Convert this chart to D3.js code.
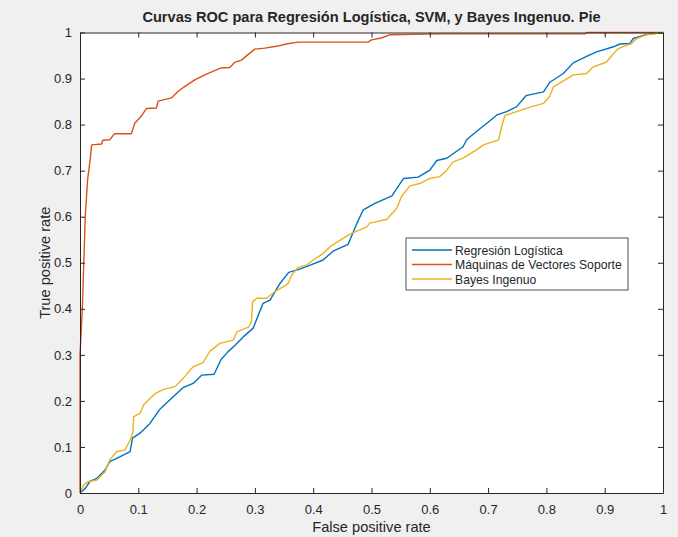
<!DOCTYPE html>
<meta charset="utf-8">
<script src="https://d3js.org/d3.v7.min.js"></script>
<style>
  body { margin: 0; background: #f0f0f0; }
  text { font-family: "Liberation Sans", Arial, sans-serif; fill: #262626; }
</style>
<div id="chart"></div>
<script>

// ROC points (false positive rate, true positive rate)
var rlFpr = [0,0.009,0.017,0.029,0.043,0.051,0.069,0.086,0.09,0.103,0.12,0.137,0.154,0.177,0.194,0.209,0.23,0.242,0.254,0.266,0.28,0.297,0.314,0.326,0.343,0.358,0.377,0.395,0.417,0.434,0.46,0.475,0.486,0.506,0.535,0.555,0.58,0.6,0.612,0.629,0.657,0.663,0.68,0.698,0.715,0.732,0.749,0.76,0.765,0.795,0.806,0.829,0.846,0.869,0.886,0.915,0.926,0.943,0.949,0.972,1];
var rlTpr = [0,0.01,0.025,0.032,0.05,0.068,0.079,0.09,0.119,0.13,0.151,0.182,0.202,0.229,0.238,0.256,0.258,0.29,0.307,0.321,0.339,0.358,0.412,0.419,0.455,0.479,0.486,0.495,0.506,0.525,0.54,0.586,0.615,0.629,0.645,0.683,0.686,0.701,0.722,0.727,0.752,0.767,0.785,0.803,0.821,0.828,0.839,0.855,0.863,0.871,0.892,0.911,0.934,0.948,0.958,0.969,0.975,0.976,0.987,0.996,1];

var svmFpr = [0,0,0.004,0.009,0.013,0.018,0.02,0.037,0.039,0.051,0.059,0.088,0.094,0.105,0.114,0.131,0.134,0.157,0.168,0.18,0.197,0.214,0.231,0.242,0.257,0.265,0.277,0.288,0.3,0.317,0.337,0.354,0.374,0.494,0.5,0.517,0.531,0.62,0.866,0.87,1];
var svmTpr = [0,0.3,0.4,0.6,0.68,0.73,0.756,0.758,0.766,0.767,0.78,0.78,0.803,0.818,0.835,0.836,0.851,0.858,0.872,0.883,0.897,0.908,0.917,0.923,0.924,0.935,0.94,0.952,0.964,0.966,0.97,0.975,0.979,0.979,0.984,0.988,0.995,0.997,0.997,1,1];

var nbFpr = [0,0.006,0.014,0.029,0.043,0.051,0.063,0.077,0.086,0.091,0.092,0.103,0.109,0.12,0.129,0.143,0.163,0.177,0.194,0.211,0.223,0.24,0.263,0.269,0.289,0.294,0.296,0.303,0.32,0.334,0.349,0.357,0.363,0.374,0.389,0.4,0.417,0.429,0.463,0.492,0.497,0.526,0.543,0.552,0.566,0.583,0.6,0.617,0.629,0.64,0.657,0.68,0.692,0.718,0.723,0.729,0.749,0.772,0.795,0.806,0.812,0.832,0.846,0.869,0.88,0.903,0.915,0.923,0.946,0.955,0.972,1];
var nbTpr = [0,0.017,0.025,0.028,0.046,0.072,0.09,0.093,0.115,0.133,0.166,0.173,0.191,0.205,0.216,0.225,0.231,0.249,0.274,0.283,0.308,0.325,0.332,0.35,0.36,0.372,0.415,0.423,0.423,0.437,0.448,0.455,0.473,0.49,0.495,0.506,0.52,0.535,0.562,0.578,0.586,0.594,0.618,0.645,0.667,0.672,0.683,0.687,0.701,0.719,0.727,0.745,0.756,0.767,0.795,0.82,0.828,0.838,0.846,0.862,0.882,0.897,0.908,0.911,0.925,0.936,0.954,0.965,0.976,0.987,0.995,1];

var seriesNames = ["Regresión Logística", "Máquinas de Vectores Soporte", "Bayes Ingenuo"];
var seriesColors = ["#0072bd", "#d95319", "#edb120"];
var ticks = [0, 0.1, 0.2, 0.3, 0.4, 0.5, 0.6, 0.7, 0.8, 0.9, 1];

var W = 678, H = 537;
var margin = {top: 32.5, right: 15, bottom: 44, left: 80};
var width = W - margin.left - margin.right,
    height = H - margin.top - margin.bottom;

var svg = d3.select("#chart").append("svg")
    .attr("width", W)
    .attr("height", H);

var g = svg.append("g")
    .attr("transform", "translate(" + margin.left + "," + margin.top + ")");

var x = d3.scaleLinear().domain([0, 1]).range([0, width]);
var y = d3.scaleLinear().domain([0, 1]).range([height, 0]);

// white plot area
g.append("rect")
    .attr("width", width)
    .attr("height", height)
    .attr("fill", "#fff");

// lines, drawn in the same order as the legend
var line = d3.line()
    .x(function(d) { return x(d[0]); })
    .y(function(d) { return y(d[1]); });

var series = [
  d3.zip(rlFpr, rlTpr),
  d3.zip(svmFpr, svmTpr),
  d3.zip(nbFpr, nbTpr)
];

series.forEach(function(pts, i) {
  g.append("path")
      .datum(pts)
      .attr("fill", "none")
      .attr("stroke", seriesColors[i])
      .attr("stroke-width", 1.4)
      .attr("stroke-linejoin", "round")
      .attr("d", line);
});

// axes (ticks pointing inward, box on all four sides)
function styleAxis(sel) {
  sel.select(".domain").attr("stroke", "#262626");
  sel.selectAll(".tick line").attr("stroke", "#262626");
  sel.selectAll(".tick text")
      .style("font-family", "'Liberation Sans', Arial, sans-serif")
      .style("font-size", "13px")
      .attr("fill", "#404040");
}

g.append("g")
    .attr("transform", "translate(0," + height + ")")
    .call(d3.axisBottom(x).tickValues(ticks).tickFormat(d3.format("")).tickSizeInner(-5).tickSizeOuter(0).tickPadding(12))
    .call(styleAxis);

g.append("g")
    .call(d3.axisLeft(y).tickValues(ticks).tickFormat(d3.format("")).tickSizeInner(-5).tickSizeOuter(0).tickPadding(8))
    .call(styleAxis);

g.append("g")
    .call(d3.axisTop(x).tickValues(ticks).tickFormat("").tickSizeInner(-5).tickSizeOuter(0))
    .call(styleAxis);

g.append("g")
    .attr("transform", "translate(" + width + ",0)")
    .call(d3.axisRight(y).tickValues(ticks).tickFormat("").tickSizeInner(-5).tickSizeOuter(0))
    .call(styleAxis);

// title and axis labels
svg.append("text")
    .attr("x", margin.left + width / 2)
    .attr("y", 22)
    .attr("text-anchor", "middle")
    .style("font-size", "14.6px")
    .style("font-weight", "bold")
    .attr("fill", "#000")
    .text("Curvas ROC para Regresión Logística, SVM, y Bayes Ingenuo. Pie");

svg.append("text")
    .attr("x", margin.left + width / 2)
    .attr("y", 532)
    .attr("text-anchor", "middle")
    .style("font-size", "14.6px")
    .text("False positive rate");

svg.append("text")
    .attr("transform", "translate(50," + (margin.top + height / 2) + ") rotate(-90)")
    .attr("text-anchor", "middle")
    .style("font-size", "14.6px")
    .text("True positive rate");

// legend
var legend = svg.append("g").attr("transform", "translate(406,238)");
legend.append("rect")
    .attr("width", 222)
    .attr("height", 52)
    .attr("fill", "#fff")
    .attr("stroke", "#262626")
    .attr("stroke-width", 0.8);

seriesNames.forEach(function(name, i) {
  var ly = 12 + i * 14.5;
  legend.append("line")
      .attr("x1", 6).attr("x2", 46)
      .attr("y1", ly).attr("y2", ly)
      .attr("stroke", seriesColors[i])
      .attr("stroke-width", 1.4);
  legend.append("text")
      .attr("x", 49)
      .attr("y", ly + 4.5)
      .style("font-size", "12.2px")
      .text(name);
});

</script>
